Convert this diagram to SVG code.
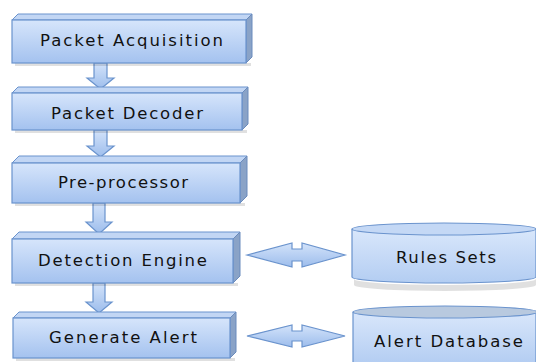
<svg xmlns="http://www.w3.org/2000/svg" width="536" height="362" viewBox="0 0 536 362">
<defs>
<linearGradient id="gf" x1="0" y1="0" x2="0" y2="1">
<stop offset="0" stop-color="#d6e5fb"/>
<stop offset="1" stop-color="#a4c2ef"/>
</linearGradient>
<linearGradient id="gc" x1="0" y1="0" x2="0" y2="1">
<stop offset="0" stop-color="#d9e7fb"/>
<stop offset="1" stop-color="#b3cdf2"/>
</linearGradient>
<linearGradient id="ga" x1="0" y1="0" x2="0" y2="1">
<stop offset="0" stop-color="#d3e3fa"/>
<stop offset="1" stop-color="#9dbdec"/>
</linearGradient>
</defs>
<style>
.front{fill:url(#gf);stroke:#6a93cd;stroke-width:1.2}
.top{fill:#c2d6f4;stroke:#6a93cd;stroke-width:1}
.side{fill:#8aa3c7;stroke:#6a8bbd;stroke-width:1}
.shadow{fill:#000;opacity:0.12}
.arr{fill:url(#ga);stroke:#6a93cd;stroke-width:1.2;stroke-linejoin:miter}
.cyl{fill:url(#gc);stroke:#6a93cd;stroke-width:1.2}
.lbl{font-family:"DejaVu Sans",Verdana,sans-serif;font-size:16.5px;fill:#111}
</style>
<rect width="536" height="362" fill="#ffffff"/>

<g id="connectors">
<path class="arr" d="M94,63 L107,63 L107,78 L114,78 L100.5,89 L87,78 L94,78 Z"/>
<path class="arr" d="M94,130 L107,130 L107,146 L114,146 L100.5,157 L87,146 L94,146 Z"/>
<path class="arr" d="M93,203 L105,203 L105,222 L112,222 L99,234 L86,222 L93,222 Z"/>
<path class="arr" d="M93,283 L105,283 L105,302 L112,302 L99,313 L86,302 L93,302 Z"/>
<path class="arr" d="M247,255 L292,243 L292,249 L302,249 L302,243 L345,255 L302,267 L302,261 L292,261 L292,267 Z"/>
<path class="arr" d="M247,336 L292,325 L292,331 L302,331 L302,325 L345,336 L302,347 L302,341 L292,341 L292,347 Z"/>
</g>

<g id="packet-acquisition">
<rect class="shadow" x="15" y="63" width="236" height="3"/>
<polygon class="top" points="12,20 18,14 252,14 246,20"/>
<polygon class="side" points="246,20 252,14 252,57 246,63"/>
<rect class="front" x="12" y="20" width="234" height="43"/>
<text class="lbl" x="40" y="46" textLength="183">Packet Acquisition</text>
</g>

<g id="packet-decoder">
<rect class="shadow" x="15" y="130" width="232" height="3"/>
<polygon class="top" points="12,93 18,87 248,87 242,93"/>
<polygon class="side" points="242,93 248,87 248,124 242,130"/>
<rect class="front" x="12" y="93" width="230" height="37"/>
<text class="lbl" x="51" y="119" textLength="152">Packet Decoder</text>
</g>

<g id="pre-processor">
<rect class="shadow" x="15" y="203" width="230" height="3"/>
<polygon class="top" points="12,163 19,156 247,156 240,163"/>
<polygon class="side" points="240,163 247,156 247,196 240,203"/>
<rect class="front" x="12" y="163" width="228" height="40"/>
<text class="lbl" x="58" y="188" textLength="130">Pre-processor</text>
</g>

<g id="detection-engine">
<rect class="shadow" x="15" y="283" width="223" height="3"/>
<polygon class="top" points="12,239 19,232 240,232 233,239"/>
<polygon class="side" points="233,239 240,232 240,276 233,283"/>
<rect class="front" x="12" y="239" width="221" height="44"/>
<text class="lbl" x="38" y="266" textLength="169">Detection Engine</text>
</g>

<g id="generate-alert">
<rect class="shadow" x="16" y="358" width="219" height="3"/>
<polygon class="top" points="13,318 19,312 236,312 230,318"/>
<polygon class="side" points="230,318 236,312 236,352 230,358"/>
<rect class="front" x="13" y="318" width="217" height="40"/>
<text class="lbl" x="49" y="343" textLength="148">Generate Alert</text>
</g>

<g id="rules-sets">
<path class="shadow" d="M354,279 A91,6 0 0 0 536,279 L536,285 A91,6 0 0 1 354,285 Z"/>
<path class="cyl" d="M352,229 L352,277 A92,6 0 0 0 536,277 L536,229"/>
<ellipse cx="444" cy="229" rx="92" ry="6" fill="#c4d8f5" stroke="#6a93cd" stroke-width="1.2"/>
<text class="lbl" x="396" y="263" textLength="100">Rules Sets</text>
</g>

<g id="alert-database">
<path class="cyl" d="M353,312 L353,364 L536,364 L536,312"/>
<ellipse cx="445" cy="312" rx="92" ry="6" fill="#b8c9df" stroke="#6a93cd" stroke-width="1.2"/>
<text class="lbl" x="374" y="347" textLength="149">Alert Database</text>
</g>
</svg>
